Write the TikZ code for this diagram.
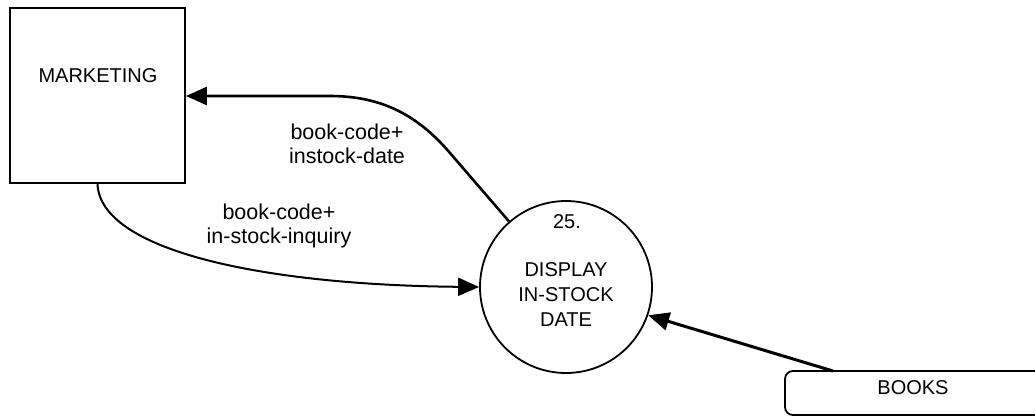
\documentclass[tikz,border=0pt]{standalone}
\usepackage{fontspec}
\setmainfont{Liberation Sans}
\usetikzlibrary{arrows.meta}
\begin{document}
\begin{tikzpicture}[x=1pt,y=-1pt,
  txt/.style={inner sep=0pt,align=center,font=\fontsize{20}{25}\selectfont},
  lbl/.style={inner sep=0pt,align=center,font=\fontsize{21.5}{24.5}\selectfont},
  extbox/.style={draw,line width=1.8pt,minimum width=175pt,minimum height=175pt,inner sep=0pt},
  procc/.style={draw,circle,line width=1.8pt,minimum size=172pt,inner sep=0pt},
  tip/.style={-{Triangle[length=21pt,width=18pt]}},
  flow/.style={line width=2pt,tip},
  flowthick/.style={line width=3pt,tip}]
\useasboundingbox (0,0) rectangle (1035,417);
% nodes
\node[extbox] (mkt) at (97.5,95.5) {};
\node[txt] (mkttxt) at (98,76) {MARKETING};
\node[procc] (proc) at (566,287) {};
\node[txt] (num) at (567,222) {25.};
\node[txt] (proctxt) at (566,295) {DISPLAY\\IN-STOCK\\DATE};
% store
\draw[line width=1.8pt,rounded corners=8pt] (1040,371) -- (785,371) -- (785,415) -- (1040,415);
\node[txt] (books) at (913,388) {BOOKS};
\coordinate (bk) at (833,371);
% flows
\draw[flow,line width=2.6pt] (proc.131.7) -- (450,153) .. controls (420,118) and (385,96) .. (330,96) -- (mkt.east |- 0,96);
\draw[flow] (mkt.south) .. controls (100,250) and (260,285) .. (proc.west);
\draw[flowthick] (bk) -- (proc.-19);
% labels
\node[lbl] (l1) at (347,144) {book-code+\\instock-date};
\node[lbl] (l2) at (279,226) {book-code+\\in-stock-inquiry};
\end{tikzpicture}
\end{document}
